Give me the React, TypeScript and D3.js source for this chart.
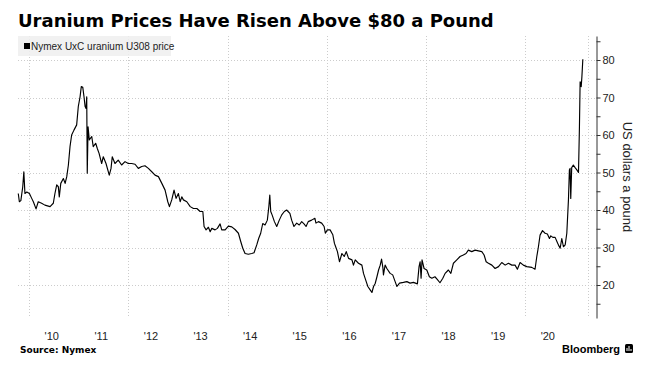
import React, { useRef, useEffect } from 'react';
import * as d3 from 'd3';

// Nymex UxC uranium U308 price (US dollars a pound)
const dates = [
  "2009-10-13", "2009-10-21", "2009-11-01", "2009-11-15", "2009-11-23", "2009-12-01", "2009-12-15",
  "2010-01-03", "2010-01-20", "2010-02-01", "2010-02-21", "2010-03-09", "2010-04-03", "2010-04-27",
  "2010-06-04", "2010-06-28", "2010-07-10", "2010-07-23", "2010-08-04", "2010-08-11", "2010-08-22",
  "2010-09-10", "2010-09-23", "2010-10-05", "2010-10-17", "2010-10-29", "2010-11-10", "2010-11-27",
  "2010-12-17", "2010-12-29", "2011-01-11", "2011-01-20", "2011-01-31", "2011-02-09", "2011-02-17",
  "2011-02-24", "2011-03-01", "2011-03-05", "2011-03-11", "2011-03-20", "2011-04-07", "2011-04-18",
  "2011-05-06", "2011-05-18", "2011-05-31", "2011-06-19", "2011-07-01", "2011-07-21", "2011-08-14",
  "2011-08-27", "2011-09-05", "2011-09-25", "2011-10-19", "2011-11-13", "2011-12-08", "2012-01-01",
  "2012-01-26", "2012-02-20", "2012-03-15", "2012-04-09", "2012-05-03", "2012-05-28", "2012-06-22",
  "2012-07-16", "2012-08-10", "2012-09-04", "2012-09-28", "2012-10-18", "2012-10-30", "2012-11-16",
  "2012-12-03", "2012-12-18", "2013-01-04", "2013-01-17", "2013-01-29", "2013-02-10", "2013-03-07",
  "2013-04-01", "2013-04-25", "2013-05-20", "2013-06-13", "2013-07-03", "2013-07-12", "2013-07-27",
  "2013-08-13", "2013-08-26", "2013-09-07", "2013-10-01", "2013-10-18", "2013-11-07", "2013-11-19",
  "2013-12-14", "2014-01-07", "2014-02-01", "2014-02-25", "2014-03-22", "2014-04-08", "2014-04-23",
  "2014-05-10", "2014-06-03", "2014-06-28", "2014-07-15", "2014-08-04", "2014-08-18", "2014-09-02",
  "2014-09-17", "2014-10-04", "2014-10-21", "2014-11-01", "2014-11-08", "2014-11-15", "2014-11-25",
  "2014-12-12", "2014-12-29", "2015-01-17", "2015-02-04", "2015-02-23", "2015-03-12", "2015-04-05",
  "2015-04-18", "2015-05-05", "2015-05-25", "2015-06-13", "2015-07-01", "2015-07-18", "2015-08-02",
  "2015-08-18", "2015-09-12", "2015-10-06", "2015-10-14", "2015-11-01", "2015-11-25", "2015-12-13",
  "2015-12-22", "2016-01-06", "2016-01-26", "2016-02-15", "2016-02-27", "2016-03-11", "2016-03-20",
  "2016-04-04", "2016-04-22", "2016-05-09", "2016-05-24", "2016-06-10", "2016-07-05", "2016-07-16",
  "2016-07-29", "2016-08-22", "2016-09-16", "2016-09-28", "2016-10-18", "2016-10-30", "2016-11-16",
  "2016-11-29", "2016-12-11", "2016-12-23", "2017-01-05", "2017-01-17", "2017-01-29", "2017-02-08",
  "2017-02-18", "2017-02-22", "2017-03-06", "2017-03-19", "2017-04-12", "2017-05-01", "2017-05-19",
  "2017-06-01", "2017-06-20", "2017-07-19", "2017-08-13", "2017-09-06", "2017-10-01", "2017-10-30",
  "2017-11-11", "2017-11-19", "2017-11-26", "2017-12-03", "2017-12-18", "2018-01-07", "2018-01-26",
  "2018-02-13", "2018-03-08", "2018-03-25", "2018-04-14", "2018-05-05", "2018-05-22", "2018-06-15",
  "2018-07-03", "2018-07-22", "2018-08-16", "2018-09-09", "2018-10-03", "2018-10-23", "2018-11-09",
  "2018-12-04", "2018-12-29", "2019-01-22", "2019-02-16", "2019-03-05", "2019-03-20", "2019-04-06",
  "2019-05-01", "2019-05-25", "2019-06-19", "2019-07-13", "2019-08-07", "2019-08-31", "2019-09-25",
  "2019-10-19", "2019-11-05", "2019-11-25", "2019-12-19", "2020-01-13", "2020-02-19", "2020-03-14",
  "2020-03-27", "2020-04-08", "2020-04-20", "2020-05-08", "2020-05-27", "2020-06-13", "2020-06-28",
  "2020-07-08", "2020-07-23", "2020-08-09", "2020-08-22", "2020-09-02", "2020-09-15", "2020-09-27",
  "2020-10-09", "2020-10-22", "2020-11-03", "2020-11-15", "2020-11-22", "2020-11-27", "2020-12-02",
  "2020-12-09", "2020-12-21", "2021-01-03", "2021-01-16", "2021-01-28", "2021-02-04", "2021-02-09",
  "2021-02-17", "2021-02-22", "2021-03-01",
];

const prices = [
  44.4, 42.2, 42.5, 46.2, 50.2, 44.4, 44.8,
  44.4, 43.1, 42.2, 40.3, 42.2, 41.8, 41.3,
  40.9, 41.8, 44.4, 46.7, 46.2, 43.5, 47.1,
  48.4, 47.1, 48.9, 52.0, 56.9, 60.0, 61.3,
  62.7, 67.6, 70.2, 72.9, 72.7, 70.2, 67.6,
  67.1, 70.2, 49.8, 62.2, 58.7, 59.6, 56.9,
  57.8, 56.4, 55.1, 52.4, 54.2, 52.4, 49.3,
  51.1, 54.2, 52.4, 53.3, 52.0, 52.9, 52.4,
  52.4, 52.2, 51.1, 51.6, 51.8, 51.1, 50.2,
  49.3, 48.9, 47.1, 45.3, 42.2, 40.9, 42.7,
  45.3, 43.1, 44.4, 42.2, 43.5, 42.7, 42.2,
  40.9, 40.4, 40.4, 39.6, 39.6, 35.6, 34.7,
  35.4, 34.2, 35.1, 34.7, 35.1, 36.3, 34.7,
  34.7, 35.7, 35.5, 34.8, 33.8, 31.6, 29.8,
  28.4, 28.2, 28.4, 28.6, 30.7, 32.4, 33.8,
  36.4, 36.0, 37.3, 40.9, 44.0, 39.6, 38.7,
  36.9, 35.6, 37.3, 38.7, 39.6, 40.0, 39.1,
  37.3, 35.6, 36.5, 36.0, 36.9, 36.3, 35.6,
  36.9, 37.3, 37.8, 36.5, 36.9, 36.5, 35.6,
  33.8, 34.7, 34.7, 33.4, 31.1, 29.8, 28.9,
  26.2, 28.4, 27.6, 28.9, 27.1, 26.7, 25.3,
  26.7, 25.8, 25.3, 23.1, 20.9, 19.6, 18.7,
  18.0, 19.6, 20.4, 22.2, 24.0, 25.3, 26.9,
  24.5, 22.7, 25.3, 24.4, 23.1, 22.7, 20.9,
  19.6, 20.5, 20.7, 20.9, 20.5, 20.7, 20.3,
  24.9, 26.2, 21.8, 26.7, 24.4, 24.0, 22.2,
  21.8, 22.2, 21.5, 20.6, 21.8, 23.1, 24.0,
  23.1, 25.8, 26.7, 27.6, 28.0, 28.4, 29.3,
  28.9, 29.3, 29.1, 28.9, 28.0, 26.2, 25.8,
  25.3, 24.4, 24.9, 26.0, 25.3, 25.8, 25.3,
  25.3, 24.2, 26.0, 25.3, 24.9, 24.7, 24.2,
  27.6, 30.2, 33.3, 34.5, 33.8, 33.6, 32.4,
  33.1, 32.7, 32.7, 31.6, 30.7, 29.8, 32.4,
  30.2, 30.7, 33.8, 42.7, 50.7, 51.1, 43.1,
  51.3, 52.0, 51.3, 50.7, 50.0, 62.2, 74.2,
  72.9, 75.5, 80.2,
];

const years = [2010, 2011, 2012, 2013, 2014, 2015, 2016, 2017, 2018, 2019, 2020];
const yearLabels = ["'10", "'11", "'12", "'13", "'14", "'15", "'16", "'17", "'18", "'19", "'20"];
const gridYears = [2010, 2012, 2014, 2016, 2018, 2020];
const priceTicks = [20, 30, 40, 50, 60, 70, 80];
const minorTicks = [15, 25, 35, 45, 55, 65, 75, 85];

const width = 658;
const height = 375;

const UraniumChart = () => {
  const ref = useRef(null);

  useEffect(() => {
    const parse = d3.timeParse("%Y-%m-%d");
    const data = dates.map((d, i) => ({ date: parse(d), value: prices[i] }));

    d3.select(ref.current).selectAll("*").remove();
    const svg = d3.select(ref.current);

    const x = d3.scaleTime()
      .domain([new Date(2009, 9, 11), new Date(2021, 3, 8)])
      .range([18, 588]);
    const y = d3.scaleLinear()
      .domain([11.2, 86.4])
      .range([318, 36]);
    const axisX = 596;

    svg.append("rect").attr("width", width).attr("height", height).attr("fill", "#fff");

    // gridlines
    const grid = svg.append("g")
      .attr("stroke", "#cccccc")
      .attr("stroke-width", 1)
      .attr("stroke-dasharray", "1,2");
    grid.selectAll(".hg")
      .data(priceTicks)
      .enter()
      .append("line")
      .attr("x1", 18)
      .attr("x2", axisX)
      .attr("y1", d => Math.round(y(d)) + 0.5)
      .attr("y2", d => Math.round(y(d)) + 0.5);
    grid.selectAll(".vg")
      .data([...gridYears.map(yr => x(new Date(yr, 0, 1))), x.range()[1]])
      .enter()
      .append("line")
      .attr("x1", d => Math.round(d) + 0.5)
      .attr("x2", d => Math.round(d) + 0.5)
      .attr("y1", 36)
      .attr("y2", 318);

    // legend
    svg.append("rect")
      .attr("x", 18).attr("y", 36).attr("width", 153).attr("height", 20)
      .attr("fill", "#eeeeee").attr("opacity", 0.85);
    svg.append("rect")
      .attr("x", 24).attr("y", 43).attr("width", 6).attr("height", 6)
      .attr("fill", "#000");
    svg.append("text")
      .attr("x", 31).attr("y", 50)
      .style("font-family", "'Liberation Sans', Arial, sans-serif")
      .style("font-size", "10px")
      .attr("fill", "#222")
      .text("Nymex UxC uranium U308 price");

    // price line
    const line = d3.line()
      .x(d => x(d.date))
      .y(d => y(d.value));
    svg.append("path")
      .datum(data)
      .attr("d", line)
      .attr("fill", "none")
      .attr("stroke", "#000")
      .attr("stroke-width", 1.15)
      .attr("stroke-linejoin", "round");

    // right axis
    const yAxis = svg.append("g")
      .attr("transform", `translate(${axisX + 0.5},0)`)
      .call(
        d3.axisRight(y)
          .tickValues([...minorTicks, ...priceTicks])
          .tickSize(4)
          .tickSizeOuter(0)
          .tickPadding(2)
          .tickFormat(d => (priceTicks.includes(d) ? String(d) : ""))
      );
    yAxis.select(".domain").attr("stroke", "#333");
    yAxis.selectAll(".tick line").attr("stroke", "#333");
    yAxis.selectAll("text")
      .style("font-family", "'Liberation Sans', Arial, sans-serif")
      .style("font-size", "11px")
      .attr("fill", "#222");

    svg.append("text")
      .attr("transform", `translate(623,177) rotate(90)`)
      .attr("text-anchor", "middle")
      .style("font-family", "'Liberation Sans', Arial, sans-serif")
      .style("font-size", "13px")
      .attr("fill", "#222")
      .text("US dollars a pound");

    // year labels, centred in each year
    svg.selectAll(".yl")
      .data(years)
      .enter()
      .append("text")
      .attr("x", yr => x(new Date(yr, 6, 1)) - 2)
      .attr("y", 340)
      .attr("text-anchor", "middle")
      .style("font-family", "'Liberation Sans', Arial, sans-serif")
      .style("font-size", "11px")
      .attr("fill", "#222")
      .text((yr, i) => yearLabels[i]);

    // title & footer
    svg.append("text")
      .attr("x", 18).attr("y", 27)
      .style("font-family", "'DejaVu Sans', Verdana, sans-serif")
      .style("font-weight", "bold")
      .style("font-size", "18px")
      .attr("fill", "#000")
      .text("Uranium Prices Have Risen Above $80 a Pound");

    svg.append("text")
      .attr("x", 20).attr("y", 353)
      .style("font-family", "'DejaVu Sans', Verdana, sans-serif")
      .style("font-weight", "bold")
      .style("font-size", "9px")
      .attr("fill", "#000")
      .text("Source: Nymex");

    svg.append("text")
      .attr("x", 620).attr("y", 353)
      .attr("text-anchor", "end")
      .style("font-family", "'Liberation Sans', Arial, sans-serif")
      .style("font-weight", "bold")
      .style("font-size", "11px")
      .attr("fill", "#000")
      .text("Bloomberg");

    // small Bloomberg terminal glyph
    const logo = svg.append("g").attr("transform", "translate(625,344)");
    logo.append("rect").attr("width", 8).attr("height", 9).attr("rx", 1.5).attr("fill", "#000");
    logo.selectAll(".bar")
      .data([2, 4, 6])
      .enter()
      .append("rect")
      .attr("x", d => d - 0.5)
      .attr("y", (d, i) => [4, 2, 5][i])
      .attr("width", 1)
      .attr("height", (d, i) => [3, 5, 2][i])
      .attr("fill", "#fff");
  }, []);

  return <svg ref={ref} width={width} height={height} style={{ display: "block" }} />;
};

const App = () => (
  <div style={{ position: "absolute", left: 0, top: 0 }}>
    <UraniumChart />
  </div>
);

export default App;
